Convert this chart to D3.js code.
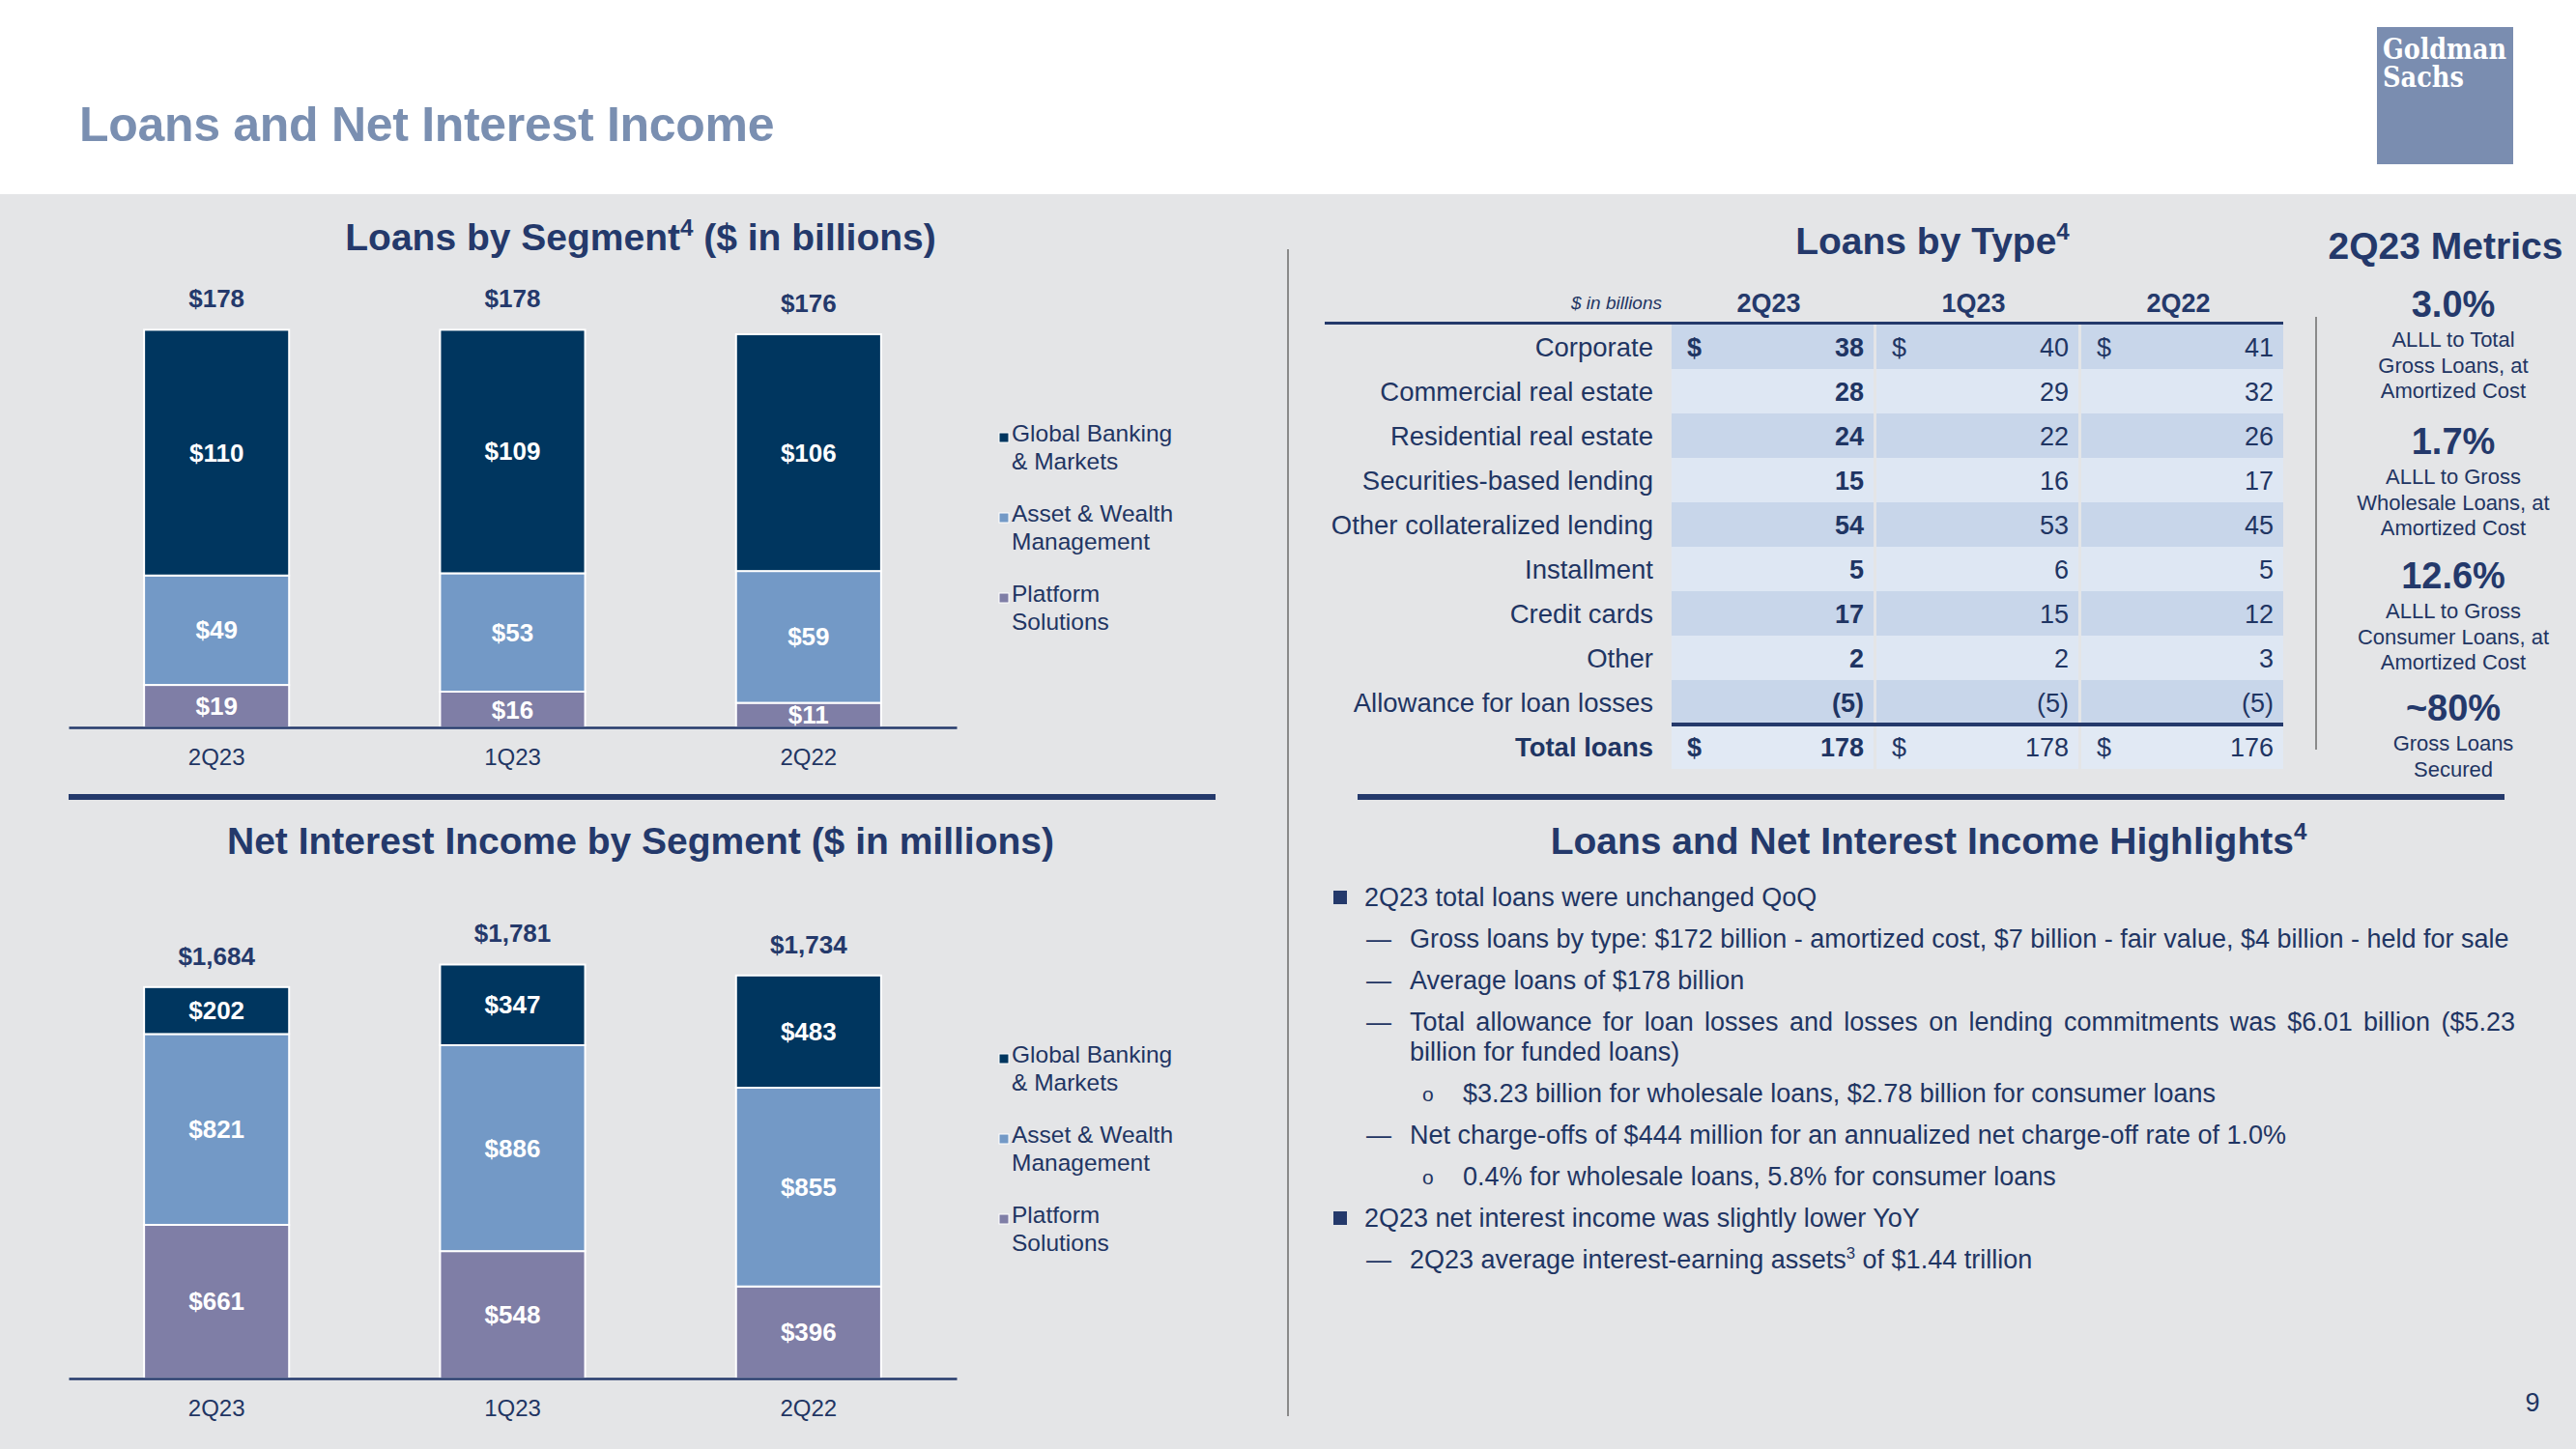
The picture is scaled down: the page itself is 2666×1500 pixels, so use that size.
<!DOCTYPE html>
<html>
<head>
<meta charset="utf-8">
<script src="https://cdn.jsdelivr.net/npm/d3@7"></script>
<style>
  body { margin: 0; background: #fff; }
  svg { display: block; font-family: "Liberation Sans", Arial, sans-serif; }
</style>
</head>
<body>
<svg id="chart" width="2666" height="1500"></svg>
<script>
// ---- data ----
const periods = ["2Q23", "1Q23", "2Q22"];
const segKeys = ["ps", "awm", "gbm"];
const legendLines = [["Global Banking", "& Markets"], ["Asset & Wealth", "Management"], ["Platform", "Solutions"]];

const loansGBM = [110, 109, 106];
const loansAWM = [49, 53, 59];
const loansPS = [19, 16, 11];
const loansTotal = [178, 178, 176];

const niiGBM = [202, 347, 483];
const niiAWM = [821, 886, 855];
const niiPS = [661, 548, 396];
const niiTotal = [1684, 1781, 1734];

const typeLabels = ["Corporate", "Commercial real estate", "Residential real estate", "Securities-based lending",
  "Other collateralized lending", "Installment", "Credit cards", "Other", "Allowance for loan losses", "Total loans"];
const type2Q23 = [38, 28, 24, 15, 54, 5, 17, 2, -5, 178];
const type1Q23 = [40, 29, 22, 16, 53, 6, 15, 2, -5, 178];
const type2Q22 = [41, 32, 26, 17, 45, 5, 12, 3, -5, 176];
const dollarRows = ["Corporate", "Total loans"];

const metricValues = ["3.0%", "1.7%", "12.6%", "~80%"];
const metricLabels = [
  ["ALLL to Total", "Gross Loans, at", "Amortized Cost"],
  ["ALLL to Gross", "Wholesale Loans, at", "Amortized Cost"],
  ["ALLL to Gross", "Consumer Loans, at", "Amortized Cost"],
  ["Gross Loans", "Secured"]
];

const highlights = [
  { level: 0, lines: ["2Q23 total loans were unchanged QoQ"] },
  { level: 1, lines: ["Gross loans by type: $172 billion - amortized cost, $7 billion - fair value, $4 billion - held for sale"] },
  { level: 1, lines: ["Average loans of $178 billion"] },
  { level: 1, lines: ["Total allowance for loan losses and losses on lending commitments was $6.01 billion ($5.23", "billion for funded loans)"], justify: true },
  { level: 2, lines: ["$3.23 billion for wholesale loans, $2.78 billion for consumer loans"] },
  { level: 1, lines: ["Net charge-offs of $444 million for an annualized net charge-off rate of 1.0%"] },
  { level: 2, lines: ["0.4% for wholesale loans, 5.8% for consumer loans"] },
  { level: 0, lines: ["2Q23 net interest income was slightly lower YoY"] },
  { level: 1, lines: ["2Q23 average interest-earning assets^3 of $1.44 trillion"] }
];

// ---- styles ----
const NAVY = "#24396b";
const TEXT = "#1f3563";
const segColors = { gbm: "#00365f", awm: "#7399c6", ps: "#7f7ea6" };
const legendColors = [segColors.gbm, segColors.awm, segColors.ps];

const svg = d3.select("#chart");

// background
svg.append("rect").attr("x", 0).attr("y", 0).attr("width", 2666).attr("height", 1500).attr("fill", "#fff");
svg.append("rect").attr("x", 0).attr("y", 201).attr("width", 2666).attr("height", 1299).attr("fill", "#e4e5e7");

// title
svg.append("text").attr("x", 82).attr("y", 146)
  .attr("font-size", 50).attr("font-weight", "bold").attr("letter-spacing", -0.3)
  .attr("fill", "#7a8fb1").text("Loans and Net Interest Income");

// logo
svg.append("rect").attr("x", 2460).attr("y", 28).attr("width", 141).attr("height", 142).attr("fill", "#7a8db0");
svg.append("text").attr("x", 2466).attr("y", 61).attr("font-family", "'DejaVu Serif Condensed', 'DejaVu Serif', serif")
  .attr("font-weight", "bold").attr("font-size", 29).attr("fill", "#fff")
  .attr("textLength", 128).attr("lengthAdjust", "spacingAndGlyphs").text("Goldman");
svg.append("text").attr("x", 2466).attr("y", 90).attr("font-family", "'DejaVu Serif Condensed', 'DejaVu Serif', serif")
  .attr("font-weight", "bold").attr("font-size", 29).attr("fill", "#fff")
  .attr("textLength", 84).attr("lengthAdjust", "spacingAndGlyphs").text("Sachs");

// separators
svg.append("line").attr("x1", 1333).attr("x2", 1333).attr("y1", 258).attr("y2", 1466)
  .attr("stroke", "#8a8a8a").attr("stroke-width", 2);
svg.append("rect").attr("x", 71).attr("y", 822).attr("width", 1187).attr("height", 6).attr("fill", NAVY);
svg.append("rect").attr("x", 1405).attr("y", 822).attr("width", 1187).attr("height", 6).attr("fill", NAVY);

// superscript-aware text writer ("^d" marks a superscript digit)
function writeRich(textSel, str, size) {
  const parts = str.split(/\^(\d)/);
  let pendingDy = 0;
  parts.forEach((p, i) => {
    if (p === "") return;
    if (i % 2 === 1) {
      textSel.append("tspan").attr("font-size", size * 0.62).attr("dy", -size * 0.38).text(p);
      pendingDy = size * 0.38;
    } else {
      const ts = textSel.append("tspan").text(p);
      if (pendingDy) { ts.attr("dy", pendingDy); pendingDy = 0; }
    }
  });
}

function titleRich(x, y, str) {
  const t = svg.append("text").attr("x", x).attr("y", y).attr("text-anchor", "middle")
    .attr("font-size", 39).attr("font-weight", "bold").attr("fill", NAVY);
  writeRich(t, str, 39);
}

// ---- stacked bar chart ----
function stackedChart(opts) {
  const rows = periods.map((p, i) => ({ period: p, gbm: opts.gbm[i], awm: opts.awm[i], ps: opts.ps[i], total: opts.total[i] }));
  const series = d3.stack().keys(segKeys)(rows);

  const x = d3.scaleBand().domain(periods).range([71, 990]).paddingInner(0.51).paddingOuter(0.255);
  const y = d3.scaleLinear().domain([0, opts.max]).range([opts.base, opts.base - opts.maxPx]);

  const g = svg.append("g");

  const layer = g.selectAll("g.layer").data(series).join("g").attr("class", "layer")
    .attr("fill", d => segColors[d.key]);

  layer.selectAll("rect").data(d => d).join("rect")
    .attr("x", d => x(d.data.period))
    .attr("width", x.bandwidth())
    .attr("y", d => y(d[1]))
    .attr("height", d => y(d[0]) - y(d[1]))
    .attr("stroke", "#fff").attr("stroke-width", 2);

  layer.selectAll("text").data(d => d.map(v => ({ v, key: d.key }))).join("text")
    .attr("x", d => x(d.v.data.period) + x.bandwidth() / 2)
    .attr("y", d => (y(d.v[0]) + y(d.v[1])) / 2 + 9)
    .attr("text-anchor", "middle").attr("font-size", 26).attr("font-weight", "bold").attr("fill", "#fff")
    .text(d => "$" + d3.format(",")(d.v.data[d.key]));

  // totals
  g.selectAll("text.total").data(rows).join("text").attr("class", "total")
    .attr("x", d => x(d.period) + x.bandwidth() / 2)
    .attr("y", d => y(d.total) - 23)
    .attr("text-anchor", "middle").attr("font-size", 26).attr("font-weight", "bold").attr("fill", NAVY)
    .text(d => "$" + d3.format(",")(d.total));

  // axis
  const axis = g.append("g").attr("transform", `translate(0,${opts.base})`)
    .call(d3.axisBottom(x).tickSize(0).tickPadding(22).tickSizeOuter(0));
  axis.select(".domain").attr("stroke", NAVY).attr("stroke-width", 2.5);
  axis.selectAll("text").attr("font-size", 24).attr("fill", TEXT)
    .attr("font-family", "'Liberation Sans', Arial, sans-serif");

  // legend
  const lg = g.selectAll("g.leg").data(legendLines).join("g").attr("class", "leg")
    .attr("transform", (d, i) => `translate(1034,${opts.legendTop + i * 83})`);
  lg.append("rect").attr("x", 0).attr("y", -9).attr("width", 10).attr("height", 10)
    .attr("fill", (d, i) => legendColors[i]).attr("stroke", "#fff").attr("stroke-width", 1);
  lg.each(function (d) {
    const t = d3.select(this).append("text").attr("x", 13).attr("y", 0)
      .attr("font-size", 24.5).attr("fill", TEXT);
    d.forEach((line, j) => t.append("tspan").attr("x", 13).attr("dy", j === 0 ? 0 : 29).text(line));
  });
}

stackedChart({ gbm: loansGBM, awm: loansAWM, ps: loansPS, total: loansTotal, max: 178, base: 753, maxPx: 411.6, legendTop: 457 });
stackedChart({ gbm: niiGBM, awm: niiAWM, ps: niiPS, total: niiTotal, max: 2000, base: 1427, maxPx: 481.2, legendTop: 1100 });

// ---- section titles ----
titleRich(663, 259, "Loans by Segment^4 ($ in billions)");
titleRich(663, 884, "Net Interest Income by Segment ($ in millions)");
titleRich(2000, 263, "Loans by Type^4");
titleRich(2531, 268, "2Q23 Metrics");
titleRich(1996, 884, "Loans and Net Interest Income Highlights^4");

// ---- table ----
const cols = [type2Q23, type1Q23, type2Q22];
const colX = d3.scaleBand().domain(periods).range([1730, 2363]).paddingInner(0.014);
const rowY = d3.scaleBand().domain(typeLabels).range([336, 796]);
const tbl = svg.append("g");

tbl.selectAll("g.row").data(typeLabels).join("g").attr("class", "row").each(function (label, r) {
  const gRow = d3.select(this);
  const isTotal = label === "Total loans";
  const fill = isTotal ? "#e1e9f4" : (r % 2 === 0 ? "#c8d6ea" : "#dee7f3");
  periods.forEach((p, c) => {
    gRow.append("rect").attr("x", colX(p)).attr("y", rowY(label)).attr("width", colX.bandwidth())
      .attr("height", rowY.bandwidth()).attr("fill", fill);
    const v = cols[c][r];
    const cy = rowY(label) + rowY.bandwidth() / 2 + 10;
    gRow.append("text").attr("x", colX(p) + colX.bandwidth() - 10).attr("y", cy)
      .attr("text-anchor", "end").attr("font-size", 27).attr("fill", TEXT)
      .attr("font-weight", c === 0 ? "bold" : "normal")
      .text(v < 0 ? "(" + Math.abs(v) + ")" : v);
    if (dollarRows.includes(label)) {
      gRow.append("text").attr("x", colX(p) + 16).attr("y", cy)
        .attr("font-size", 27).attr("fill", TEXT).attr("font-weight", c === 0 ? "bold" : "normal").text("$");
    }
  });
  gRow.append("text").attr("x", 1711).attr("y", rowY(label) + rowY.bandwidth() / 2 + 10)
    .attr("text-anchor", "end").attr("font-size", 27.5).attr("fill", TEXT)
    .attr("font-weight", isTotal ? "bold" : "normal").text(label);
});

// column headers
tbl.selectAll("text.colh").data(periods).join("text").attr("class", "colh")
  .attr("x", d => colX(d) + colX.bandwidth() / 2 - 4).attr("y", 323)
  .attr("text-anchor", "middle").attr("font-size", 27).attr("font-weight", "bold").attr("fill", NAVY).text(d => d);
tbl.append("text").attr("x", 1720).attr("y", 320).attr("text-anchor", "end")
  .attr("font-size", 19).attr("font-style", "italic").attr("fill", TEXT).text("$ in billions");
tbl.append("rect").attr("x", 1371).attr("y", 333).attr("width", 992).attr("height", 3).attr("fill", NAVY);
tbl.append("rect").attr("x", 1730).attr("y", rowY("Total loans") - 2).attr("width", 633).attr("height", 4).attr("fill", NAVY);

// ---- metrics ----
svg.append("line").attr("x1", 2397).attr("x2", 2397).attr("y1", 328).attr("y2", 776)
  .attr("stroke", "#8a8a8a").attr("stroke-width", 2);
const metricTops = [315, 457, 596, 733];
const mg = svg.selectAll("g.metric").data(metricValues).join("g").attr("class", "metric")
  .attr("transform", (d, i) => `translate(2539,${metricTops[i]})`);
mg.append("text").attr("y", 13).attr("text-anchor", "middle").attr("font-size", 38).attr("font-weight", "bold")
  .attr("fill", NAVY).text(d => d);
mg.each(function (d, i) {
  const t = d3.select(this).append("text").attr("text-anchor", "middle").attr("font-size", 22).attr("fill", TEXT);
  metricLabels[i].forEach((line, j) => t.append("tspan").attr("x", 0).attr("y", 44 + j * 26.5).text(line));
});

// ---- highlights ----
const hl = svg.append("g");
let cursor = 929;
const textX = { 0: 1412, 1: 1459, 2: 1514 };
highlights.forEach(item => {
  const base = cursor + 9;
  if (item.level === 0) {
    hl.append("rect").attr("x", 1380).attr("y", cursor - 7).attr("width", 14).attr("height", 14).attr("fill", NAVY);
  } else if (item.level === 1) {
    hl.append("text").attr("x", 1414).attr("y", base).attr("font-size", 26).attr("fill", TEXT).text("\u2014");
  } else {
    hl.append("text").attr("x", 1472).attr("y", base - 1).attr("font-size", 21).attr("fill", TEXT).text("o");
  }
  item.lines.forEach((line, j) => {
    const t = hl.append("text").attr("x", textX[item.level]).attr("y", base + j * 31)
      .attr("font-size", 27).attr("fill", TEXT);
    writeRich(t, line, 27);
    if (item.justify && j < item.lines.length - 1) {
      const w = t.node().getComputedTextLength();
      const spaces = (line.match(/ /g) || []).length;
      const target = 2603 - textX[item.level];
      if (w < target) t.attr("word-spacing", (target - w) / spaces);
    }
  });
  cursor += 43 + (item.lines.length - 1) * 31;
});

// page number
svg.append("text").attr("x", 2621).attr("y", 1461).attr("text-anchor", "middle")
  .attr("font-size", 27).attr("fill", TEXT).text("9");
</script>
</body>
</html>
